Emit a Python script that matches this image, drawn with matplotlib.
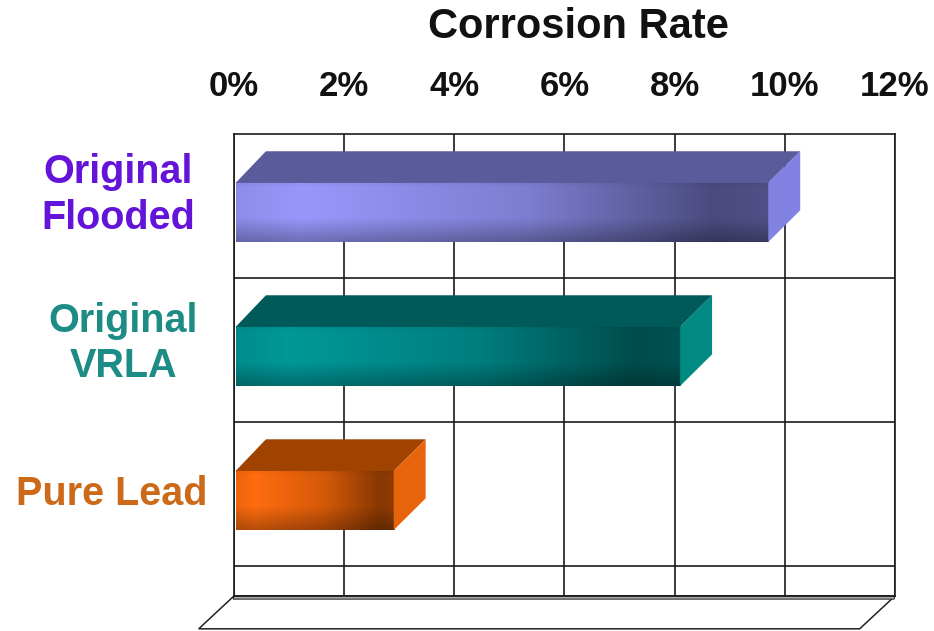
import numpy as np
import matplotlib.pyplot as plt
from matplotlib.patches import Polygon
from matplotlib.colors import to_rgb

# categories from bottom to top
categories = ['Pure Lead', 'Original\nVRLA', 'Original\nFlooded']
rates = [2.9, 8.1, 9.7]          # corrosion rate, %
xticks = [0, 2, 4, 6, 8, 10, 12]
label_colors = ['#CC6A1A', '#1C8C84', '#6414D8']

# face colours: light end, dark end, top face, side face
bar_light = ['#FF6C0E', '#009898', '#9898FC']
bar_dark = ['#883802', '#004C4C', '#4A4A7E']
bar_top = ['#A04300', '#005A5A', '#5B5B9C']
bar_side = ['#E8640C', '#008A82', '#8282E2']


def front_face(light, dark, nx=300, ny=60):
    f = np.linspace(0, 1, nx)
    # bright near the left, dark toward the right end
    w = np.interp(f, [0, 0.12, 0.55, 0.9, 1.0], [0.85, 1.0, 0.65, 0.0, 0.08])
    g = np.linspace(0, 1, ny)
    v = np.interp(g, [0, 0.08, 0.6, 1.0], [0.95, 1.0, 1.0, 0.72])
    lo, hi = np.array(to_rgb(dark)), np.array(to_rgb(light))
    rgb = lo + w[None, :, None] * (hi - lo)
    rgb = rgb * v[:, None, None]
    return np.clip(rgb, 0, 1)


def main():
    plt.rcParams['font.family'] = ['Liberation Sans', 'DejaVu Sans']
    fig = plt.figure(figsize=(9.34, 6.31), dpi=100)
    ax = fig.add_axes([0.2505, 0.0555, 0.7077, 0.7322])

    y_lo, y_hi = -0.708, 2.5
    h = 0.41          # bar thickness
    off = -0.045      # front face shift from category centre
    dx, dy = 0.58, 0.22   # depth of the bars

    for i, v in enumerate(rates):
        yc = i + off
        b, t = yc - h / 2, yc + h / 2
        img = front_face(bar_light[i], bar_dark[i])
        ax.imshow(img, extent=[0.03, v, b, t], aspect='auto', zorder=3, interpolation='bilinear')
        ax.add_patch(Polygon([(0.03, t), (v, t), (v + dx, t + dy), (dx, t + dy)],
                             closed=True, fc=bar_top[i], ec='none', zorder=3))
        ax.add_patch(Polygon([(v, b), (v, t), (v + dx, t + dy), (v + dx, b + dy)],
                             closed=True, fc=bar_side[i], ec='none', zorder=3))

    # floor
    fdx, fdy = -0.64, 0.228
    ax.add_patch(Polygon([(0, y_lo), (12, y_lo), (12 + fdx, y_lo - fdy), (fdx, y_lo - fdy)],
                         closed=True, fc='white', ec='#222222', lw=1.1, clip_on=False, zorder=1))
    ax.add_patch(Polygon([(0, y_lo), (12, y_lo), (12 - 0.015, y_lo - 0.022), (-0.015, y_lo - 0.022)],
                         closed=True, fc='#A8A8A8', ec='#222222', lw=0.7, clip_on=False, zorder=2))

    ax.set_xlim(0, 12)
    ax.set_ylim(y_lo, y_hi)
    ax.set_xticks(xticks)
    ax.set_xticklabels(['{}%'.format(x) for x in xticks], fontsize=25, fontweight='bold',
                       color='#111111')
    ax.xaxis.tick_top()
    ax.tick_params(axis='x', length=0, pad=22)
    ax.set_yticks([])
    ax.set_yticks([-0.5, 0.5, 1.5], minor=True)
    ax.tick_params(axis='y', which='both', length=0, labelleft=False)
    ax.grid(True, axis='x', which='major', color='#1a1a1a', lw=1.2)
    ax.grid(True, axis='y', which='minor', color='#1a1a1a', lw=1.2)
    ax.set_axisbelow(True)
    for s in ax.spines.values():
        s.set_color('#1a1a1a')
        s.set_linewidth(1.2)

    label_x = [-2.21, -2.01, -2.1]
    label_dy = [0.0, 0.045, 0.075]
    for i, name in enumerate(categories):
        ax.text(label_x[i], i + label_dy[i], name, ha='center', va='center',
                fontsize=28.5, fontweight='bold', color=label_colors[i],
                linespacing=1.25, clip_on=False)

    fig.text(0.619, 0.957, 'Corrosion Rate', ha='center', va='center',
             fontsize=30, fontweight='bold', color='#111111')

    fig.savefig('out.png', dpi=100)


if __name__ == '__main__':
    main()
